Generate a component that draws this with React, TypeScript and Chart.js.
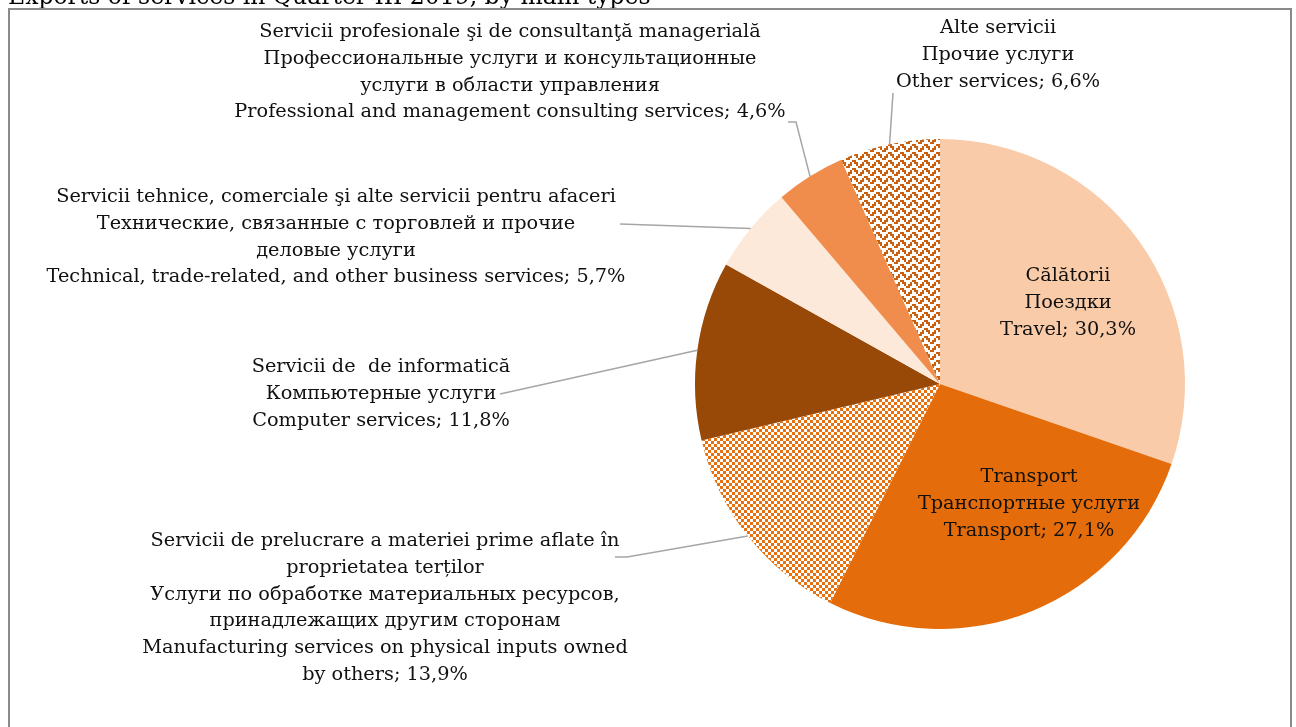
import { useEffect, useRef } from "react";
import { Chart, registerables } from "chart.js";
Chart.register(...registerables);

const TITLE = "Exports of services in Quarter III 2019, by main types";

const categoryNames: string[][] = [
  ["Călătorii", "Поездки", "Travel"],
  ["Transport", "Транспортные услуги", "Transport"],
  [
    "Servicii de prelucrare a materiei prime aflate în",
    "proprietatea terților",
    "Услуги по обработке материальных ресурсов,",
    "принадлежащих другим сторонам",
    "Manufacturing services on physical inputs owned",
    "by others",
  ],
  ["Servicii de  de informatică", "Компьютерные услуги", "Computer services"],
  [
    "Servicii tehnice, comerciale şi alte servicii pentru afaceri",
    "Технические, связанные с торговлей и прочие",
    "деловые услуги",
    "Technical, trade-related, and other business services",
  ],
  [
    "Servicii profesionale şi de consultanţă managerială",
    "Профессиональные услуги и консультационные",
    "услуги в области управления",
    "Professional and management consulting services",
  ],
  ["Alte servicii", "Прочие услуги", "Other services"],
];

const shareValues: number[] = [30.3, 27.1, 13.9, 11.8, 5.7, 4.6, 6.6];

// label placement (page pixels): centre x, first line centre y, optional leader points
const labelLayout: { x: number; y: number; leader?: number[][] }[] = [
  { x: 1068, y: 276 },
  { x: 1029, y: 477 },
  { x: 385, y: 541, leader: [[615, 557], [627, 557]] },
  { x: 381, y: 367, leader: [[500, 394]] },
  { x: 336, y: 197, leader: [[620, 224]] },
  { x: 510, y: 32, leader: [[788, 122], [796, 122]] },
  { x: 998, y: 28, leader: [[893, 93]] },
];

function makeTile(w: number, h: number, scale: number, fg: string, rows: string[]) {
  const c = document.createElement("canvas");
  c.width = w * scale;
  c.height = h * scale;
  const g = c.getContext("2d")!;
  g.fillStyle = "#ffffff";
  g.fillRect(0, 0, c.width, c.height);
  g.fillStyle = fg;
  for (let y = 0; y < rows.length; y++) {
    for (let x = 0; x < rows[y].length; x++) {
      if (rows[y][x] === "1") g.fillRect(x * scale, y * scale, scale, scale);
    }
  }
  return g.createPattern(c, "repeat")!;
}

export default function App() {
  const ref = useRef<HTMLCanvasElement | null>(null);

  useEffect(() => {
    const canvas = ref.current!;
    const checker = makeTile(2, 2, 3, "#E8700E", ["10", "01"]);
    const zigzag = makeTile(6, 4, 2, "#C8600F", ["110000", "011001", "001011", "000110"]);
    const colors: (string | CanvasPattern)[] = [
      "#F9CBA8",
      "#E46C0A",
      checker,
      "#984807",
      "#FDE9D9",
      "#F08D4C",
      zigzag,
    ];

    const fmt = (v: number) => v.toFixed(1).replace(".", ",") + "%";

    const decor = {
      id: "decor",
      beforeDraw(chart: any) {
        const ctx = chart.ctx;
        ctx.save();
        ctx.fillStyle = "#ffffff";
        ctx.fillRect(0, 0, chart.width, chart.height);
        ctx.fillStyle = "#000000";
        ctx.font = '23.5px "DejaVu Serif"';
        ctx.textAlign = "left";
        ctx.textBaseline = "alphabetic";
        ctx.fillText(TITLE, 8, 4);
        ctx.strokeStyle = "#8A8A8A";
        ctx.lineWidth = 2;
        ctx.strokeRect(9, 9, 1282, 760);
        ctx.restore();
      },
      afterDraw(chart: any) {
        const ctx = chart.ctx;
        const meta = chart.getDatasetMeta(0);
        ctx.save();
        meta.data.forEach((arc: any, i: number) => {
          const lay = labelLayout[i];
          const p = arc.getProps(["x", "y", "startAngle", "endAngle", "outerRadius"], true);
          const mid = (p.startAngle + p.endAngle) / 2;
          const ex = p.x + Math.cos(mid) * p.outerRadius;
          const ey = p.y + Math.sin(mid) * p.outerRadius;
          if (lay.leader) {
            ctx.strokeStyle = "#A6A6A6";
            ctx.lineWidth = 1.5;
            ctx.beginPath();
            lay.leader.forEach((pt, k) => (k === 0 ? ctx.moveTo(pt[0], pt[1]) : ctx.lineTo(pt[0], pt[1])));
            ctx.lineTo(ex, ey);
            ctx.stroke();
          }
          const lines = categoryNames[i].slice();
          lines[lines.length - 1] = lines[lines.length - 1] + "; " + fmt(shareValues[i]);
          ctx.fillStyle = "#111111";
          ctx.font = '19.3px "DejaVu Serif"';
          ctx.textAlign = "center";
          ctx.textBaseline = "middle";
          lines.forEach((t, k) => ctx.fillText(t, lay.x, lay.y + k * 26.8));
        });
        ctx.restore();
      },
    };

    const chart = new Chart(canvas, {
      type: "pie",
      data: {
        labels: categoryNames.map((n) => n[n.length - 1]),
        datasets: [
          {
            data: shareValues,
            backgroundColor: colors as any,
            borderWidth: 0,
            hoverOffset: 0,
            radius: 245,
          } as any,
        ],
      },
      options: {
        responsive: false,
        animation: false,
        events: [],
        layout: { padding: { left: 695, right: 111, top: 139, bottom: 98 } },
        plugins: { legend: { display: false }, tooltip: { enabled: false }, title: { display: false } },
      },
      plugins: [decor],
    });
    return () => chart.destroy();
  }, []);

  return (
    <div style={{ position: "fixed", left: 0, top: 0, width: 1296, height: 727, overflow: "hidden" }}>
      <canvas ref={ref} width={1296} height={727} style={{ display: "block", width: 1296, height: 727 }} />
    </div>
  );
}
